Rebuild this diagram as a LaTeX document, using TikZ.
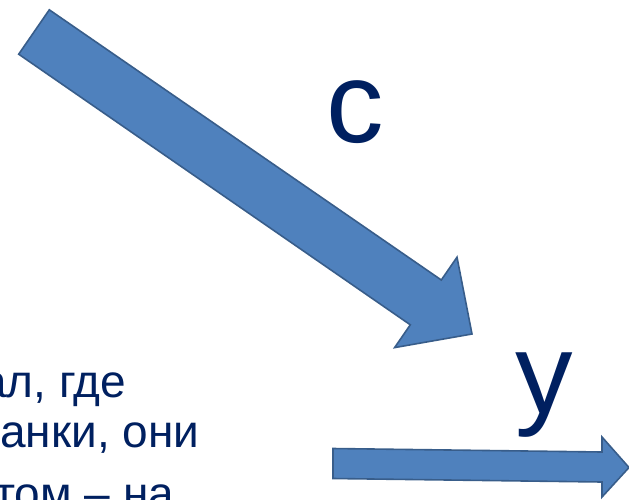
\documentclass[tikz,border=0pt]{standalone}
\usepackage{fontspec}
\setmainfont{Liberation Sans}
\usepackage{tikz}
\usetikzlibrary{calc}
\definecolor{arrowfill}{HTML}{4F81BD}
\definecolor{arrowline}{HTML}{385D8A}
\definecolor{navy}{HTML}{002060}

\begin{document}
\begin{tikzpicture}[x=1pt, y=-1pt,
  blockarrow/.style={fill=arrowfill, draw=arrowline, line width=1.6pt, line join=miter},
  bigletter/.style={text=navy, font=\fontsize{115}{120}\selectfont, inner sep=0pt, anchor=base},
  textline/.style={text=navy, font=\fontsize{46}{50}\selectfont, inner sep=0pt, anchor=base west}]
  \useasboundingbox (0,0) rectangle (629,499);
  \clip (0,0) rectangle (629,499);

  % Diagonal arrow
  \draw[blockarrow] (49.3,9.8) -- (441.3,280.0) -- (457.0,257.2) -- (472,334)
    -- (394.6,347.6) -- (410.3,324.8) -- (18.7,54.2) -- cycle;

  % Horizontal arrow
  \draw[blockarrow] (333,448.5) -- (602,452) -- (602,437) -- (629,467.5)
    -- (602,497) -- (602,482) -- (333,478.5) -- cycle;

  % Letters
  \node[bigletter] (c) at (355,142) {с};
  \node[bigletter] (y) at (544,413) {у};

  % Text cut at the left edge
  \node[textline] (line1) at (-19,397) {ал, где};
  \node[textline] (line2) at (0,447) {анки, они};
  \node[textline] (line3) at (-6,509) {том – на};
\end{tikzpicture}
\end{document}
